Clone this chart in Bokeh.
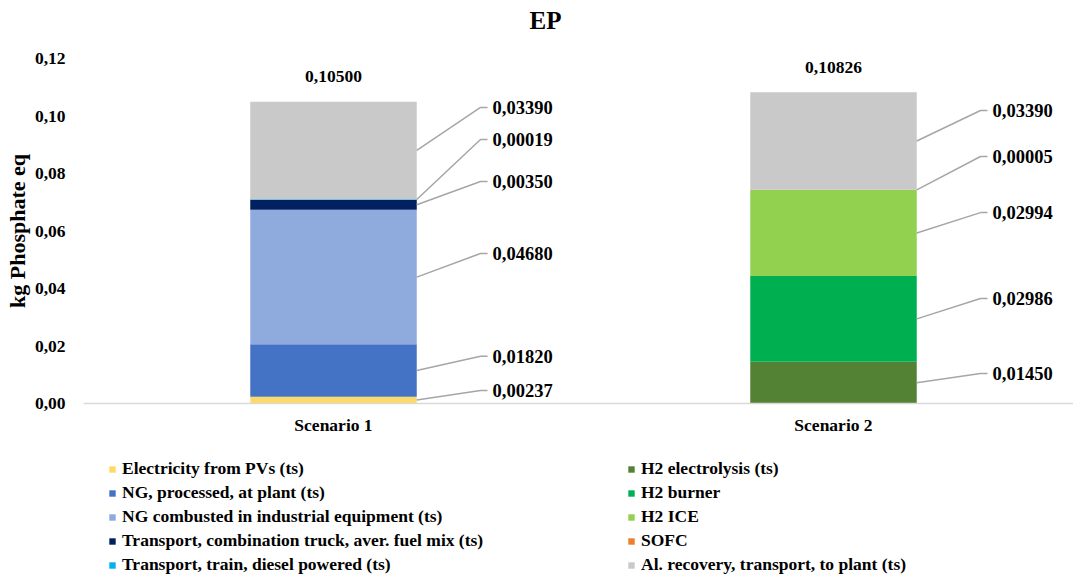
from bokeh.plotting import figure
from bokeh.layouts import column
from bokeh.models import (ColumnDataSource, Range1d, FixedTicker, CustomJSTickFormatter,
                          Legend, LegendItem, LabelSet, Label)
from bokeh.core.properties import value
from bokeh.embed import file_html
from bokeh.resources import INLINE

# ---- data -------------------------------------------------------------
scenarios = ["Scenario 1", "Scenario 2"]
series = [
    "Electricity from PVs (ts)",
    "NG, processed, at plant (ts)",
    "NG combusted in industrial equipment (ts)",
    "Transport, combination truck, aver. fuel mix (ts)",
    "Transport, train, diesel powered (ts)",
    "H2 electrolysis (ts)",
    "H2 burner",
    "H2 ICE",
    "SOFC",
    "Al. recovery, transport, to plant (ts)",
]
scenario1 = [0.00237, 0.01820, 0.04680, 0.00350, 0.00019, 0, 0, 0, 0, 0.03390]
scenario2 = [0, 0, 0, 0, 0, 0.01450, 0.02986, 0.02994, 0.00005, 0.03390]
totals = [0.10500, 0.10826]
colors = ["#FFD966", "#4472C4", "#8FAADC", "#002060", "#00B0F0",
          "#548235", "#00B050", "#92D050", "#ED7D31", "#C9C9C9"]

# heights (axis units) where each value callout is written
callout_y1 = [0.0045, 0.0164, 0.0522, 0.0772, 0.0918, None, None, None, None, 0.1030]
callout_y2 = [None, None, None, None, None, 0.0104, 0.0365, 0.0664, 0.0859, 0.1019]

FONT = "Liberation Serif"
BAR_W = 0.333
ELBOW = 0.294
TICK_END = 0.308
TEXT_X = 0.318
WIDTH = 1073
LEFT = 83

xs_pos = [i + 0.5 for i in range(len(scenarios))]
keys = [f"s{i}" for i in range(len(series))]
src = ColumnDataSource({"x": xs_pos,
                        **{k: [scenario1[i], scenario2[i]] for i, k in enumerate(keys)}})


def bare_figure(height):
    """A strip figure without axes; its frame lines up with the chart's frame."""
    f = figure(width=WIDTH, height=height, x_range=Range1d(0, 1), y_range=Range1d(0, 1),
               output_backend="svg", toolbar_location=None,
               min_border_left=LEFT, min_border_right=0,
               min_border_top=0, min_border_bottom=0)
    f.axis.visible = False
    f.grid.visible = False
    f.outline_line_color = None
    return f


# ---- header with the title -------------------------------------------
header = bare_figure(46)
header.add_layout(Label(x=545 - LEFT, y=26, x_units="screen", y_units="screen", text="EP",
                        text_font=FONT, text_font_style="bold", text_font_size="25px",
                        text_align="center", text_baseline="middle", text_color="black"))

# ---- main stacked bar chart ------------------------------------------
p = figure(width=WIDTH, height=394,
           x_range=Range1d(0, 1.98), y_range=Range1d(0, 0.12),
           output_backend="svg", toolbar_location=None,
           min_border_left=LEFT, min_border_right=0,
           min_border_top=12, min_border_bottom=37)
p.outline_line_color = None
p.xgrid.visible = False
p.ygrid.visible = False

p.vbar_stack(keys, x="x", width=BAR_W, source=src, color=colors, line_color=None)

# value callouts with leader lines
line_xs, line_ys = [], []
lab_x, lab_y, lab_t = [], [], []
for s_idx, (vals, cys) in enumerate([(scenario1, callout_y1), (scenario2, callout_y2)]):
    cx = xs_pos[s_idx]
    base = 0.0
    for v, cy in zip(vals, cys):
        if v > 0 and cy is not None:
            mid = base + v / 2
            line_xs.append([cx + BAR_W / 2, cx + ELBOW, cx + TICK_END])
            line_ys.append([mid, cy, cy])
            lab_x.append(cx + TEXT_X)
            lab_y.append(cy)
            lab_t.append(f"{v:.5f}".replace(".", ","))
        base += v

p.multi_line(line_xs, line_ys, line_color="#A6A6A6", line_width=1.5)
p.text(lab_x, lab_y, text=lab_t, text_font=value(FONT), text_font_style="bold",
       text_font_size="18.5px", text_align="left", text_baseline="middle",
       text_color="black")

tot_src = ColumnDataSource({"x": xs_pos, "y": totals,
                            "t": [f"{t:.5f}".replace(".", ",") for t in totals]})
p.add_layout(LabelSet(x="x", y="y", text="t", source=tot_src, y_offset=25,
                      text_font=FONT, text_font_style="bold", text_font_size="17.5px",
                      text_align="center", text_baseline="middle", text_color="black"))

# axes
p.xaxis.ticker = FixedTicker(ticks=xs_pos)
p.xaxis.major_label_overrides = {x: s for x, s in zip(xs_pos, scenarios)}
p.xaxis.axis_line_color = "#D9D9D9"
p.xaxis.axis_line_width = 1.5
p.xaxis.major_tick_line_color = None
p.xaxis.minor_tick_line_color = None
p.xaxis.major_label_standoff = 5
p.xaxis.major_label_text_font = FONT
p.xaxis.major_label_text_font_style = "bold"
p.xaxis.major_label_text_font_size = "17.5px"
p.xaxis.major_label_text_color = "black"

p.yaxis.ticker = FixedTicker(ticks=[0, 0.02, 0.04, 0.06, 0.08, 0.10, 0.12])
p.yaxis.formatter = CustomJSTickFormatter(code="return tick.toFixed(2).replace('.', ',');")
p.yaxis.axis_line_color = None
p.yaxis.major_tick_line_color = None
p.yaxis.minor_tick_line_color = None
p.yaxis.major_label_standoff = 12
p.yaxis.major_label_text_font = FONT
p.yaxis.major_label_text_font_style = "bold"
p.yaxis.major_label_text_font_size = "17.5px"
p.yaxis.major_label_text_color = "black"
p.yaxis.axis_label = "kg Phosphate eq"
p.yaxis.axis_label_text_font = FONT
p.yaxis.axis_label_text_font_style = "bold"
p.yaxis.axis_label_text_font_size = "22px"
p.yaxis.axis_label_text_color = "black"
p.yaxis.axis_label_standoff = 2

# ---- legend strip: two columns of keys --------------------------------
leg = bare_figure(137)
# hidden copies of the stacks, used only as legend keys
keys_r = leg.vbar_stack(keys, x="x", width=BAR_W, source=src, color=colors,
                        line_color=None, visible=False)
items = [LegendItem(label=lab, renderers=[r]) for lab, r in zip(series, keys_r)]


def make_legend(its, loc):
    return Legend(items=its, location=loc, orientation="vertical",
                  border_line_color=None, background_fill_alpha=0,
                  padding=0, margin=0, spacing=3,
                  glyph_width=8, glyph_height=8, label_standoff=6,
                  label_height=17, click_policy="none",
                  label_text_font=FONT, label_text_font_style="bold",
                  label_text_font_size="17.5px", label_text_color="black")


leg.add_layout(make_legend(items[:5], (108 - LEFT, 2)))
leg.add_layout(make_legend(items[5:], (627 - LEFT, 2)))

layout = column(header, p, leg, spacing=0)
open("out.html", "w").write(file_html(layout, INLINE))
